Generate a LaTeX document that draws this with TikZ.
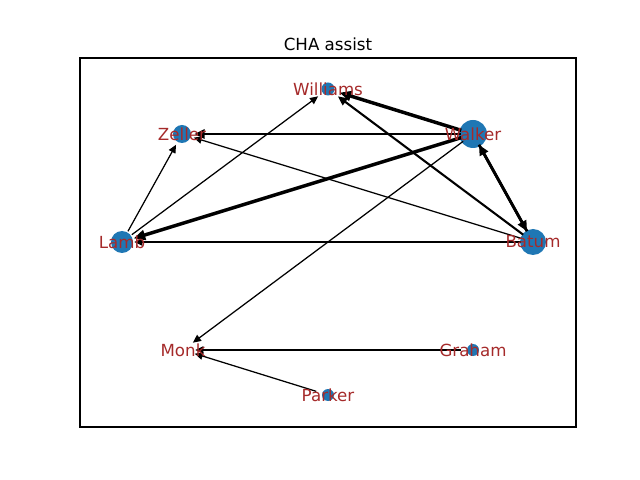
\documentclass[tikz,border=0pt]{standalone}
\usepackage{fontspec}
\setmainfont{DejaVu Sans}
\usetikzlibrary{arrows.meta}
\definecolor{nodeblue}{HTML}{1F77B4}
\definecolor{labelbrown}{HTML}{A52A2A}
\tikzset{
  anchorpt/.style={circle, inner sep=0pt, minimum size=17.3bp},
  dot/.style={fill=nodeblue, draw=none},
  lbl/.style={text=labelbrown, font=\fontsize{12bp}{14bp}\selectfont, inner sep=0pt},
  edge/.style={draw=black, line width=#1, -{Triangle[length=4.5bp 1.5, width=4.2bp 1.2]}},
  edge/.default=0.9bp
}
\begin{document}
\begin{tikzpicture}[x=0.72bp, y=-0.72bp]
\useasboundingbox (0,0) rectangle (640,480);
% axes frame
\draw[line width=0.8bp] (80,58) rectangle (576,427);
\node[font=\fontsize{12bp}{14bp}\selectfont, inner sep=0pt] (title) at (328,44) {CHA assist};
% node positions
\node[anchorpt] (wil) at (328,89) {};
\node[anchorpt] (zel) at (182,134) {};
\node[anchorpt] (wal) at (473,134) {};
\node[anchorpt] (lam) at (122,242) {};
\node[anchorpt] (bat) at (533,242) {};
\node[anchorpt] (mon) at (183,350) {};
\node[anchorpt] (gra) at (473,350) {};
\node[anchorpt] (par) at (328,395) {};
% dots
\fill[dot] (wil.center) circle[radius=6.5];
\fill[dot] (zel.center) circle[radius=9];
\fill[dot] (wal.center) circle[radius=14];
\fill[dot] (lam.center) circle[radius=11];
\fill[dot] (bat.center) circle[radius=13];
\fill[dot] (gra.center) circle[radius=6];
\fill[dot] (par.center) circle[radius=6];
% edges
\draw[edge=2.5bp] (wal) -- (wil);
\draw[edge=1.5bp] (bat) -- (wil);
\draw[edge=2bp] (wal) -- (zel);
\draw[edge=2.5bp] (wal) -- (lam);
\draw[edge=2bp] (wal) -- (bat);
\draw[edge=2bp] (bat) -- (wal);
\draw[edge] (bat) -- (zel);
\draw[edge] (bat) -- (lam);
\draw[edge] (lam) -- (zel);
\draw[edge] (lam) -- (wil);
\draw[edge] (wal) -- (mon);
\draw[edge] (gra) -- (mon);
\draw[edge] (par) -- (mon);
% labels
\node[lbl] at (wil.center) {Williams};
\node[lbl] at (zel.center) {Zeller};
\node[lbl] at (wal.center) {Walker};
\node[lbl] at (lam.center) {Lamb};
\node[lbl] at (bat.center) {Batum};
\node[lbl] at (mon.center) {Monk};
\node[lbl] at (gra.center) {Graham};
\node[lbl] at (par.center) {Parker};
\end{tikzpicture}
\end{document}
